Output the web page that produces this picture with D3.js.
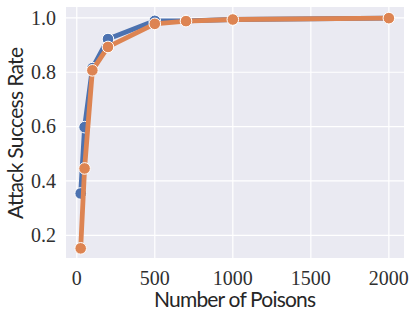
<!DOCTYPE html>
<html>
<head>
    <script src="https://d3js.org/d3.v7.min.js"></script>
    <style>
        body { margin: 0; background: #fff; }
    </style>
</head>
<body>
    <div id="chart"></div>
    <script>
        var poisons = [25, 50, 100, 200, 500, 700, 1000, 2000];
        var blueRate = [0.354, 0.598, 0.815, 0.922, 0.989, 0.989, 0.994, 0.999];
        var orangeRate = [0.152, 0.446, 0.807, 0.893, 0.978, 0.988, 0.994, 0.999];
        var xTicks = [0, 500, 1000, 1500, 2000];
        var yTicks = [0.2, 0.4, 0.6, 0.8, 1.0];

        var width = 416, height = 318;
        var margin = {left: 66, right: 12, top: 7, bottom: 60};

        var svg = d3.select("#chart").append("svg")
            .attr("width", width)
            .attr("height", height);

        var x = d3.scaleLinear().domain([-69, 2097]).range([margin.left, width - margin.right]);
        var y = d3.scaleLinear().domain([0.1165, 1.040]).range([height - margin.bottom, margin.top]);

        svg.append("rect")
            .attr("x", margin.left)
            .attr("y", margin.top)
            .attr("width", width - margin.left - margin.right)
            .attr("height", height - margin.top - margin.bottom)
            .attr("fill", "#eaeaf2");

        // grid
        svg.selectAll(".gx").data(xTicks).enter().append("line")
            .attr("x1", function(d) { return x(d); })
            .attr("x2", function(d) { return x(d); })
            .attr("y1", margin.top)
            .attr("y2", height - margin.bottom)
            .attr("stroke", "#fff").attr("stroke-width", 1.2);
        svg.selectAll(".gy").data(yTicks).enter().append("line")
            .attr("y1", function(d) { return y(d); })
            .attr("y2", function(d) { return y(d); })
            .attr("x1", margin.left)
            .attr("x2", width - margin.right)
            .attr("stroke", "#fff").attr("stroke-width", 1.2);

        // tick labels
        svg.selectAll(".tx").data(xTicks).enter().append("text")
            .attr("x", function(d) { return x(d); })
            .attr("y", 285)
            .attr("text-anchor", "middle")
            .attr("font-family", "Liberation Serif")
            .attr("font-size", 20)
            .attr("fill", "#303030")
            .text(function(d) { return d; });
        svg.selectAll(".ty").data(yTicks).enter().append("text")
            .attr("x", 56)
            .attr("y", function(d) { return y(d); })
            .attr("dy", "0.34em")
            .attr("text-anchor", "end")
            .attr("font-family", "Liberation Serif")
            .attr("font-size", 20)
            .attr("fill", "#303030")
            .text(function(d) { return d.toFixed(1); });

        // axis labels
        svg.append("text")
            .attr("x", 235)
            .attr("y", 306.5)
            .attr("text-anchor", "middle")
            .attr("font-family", "Lato")
            .attr("font-size", 21)
            .attr("fill", "#262626")
            .attr("textLength", 162)
            .text("Number of Poisons");
        svg.append("text")
            .attr("transform", "translate(22.5,133) rotate(-90)")
            .attr("text-anchor", "middle")
            .attr("font-family", "Lato")
            .attr("font-size", 21)
            .attr("fill", "#262626")
            .attr("textLength", 172)
            .text("Attack Success Rate");

        var line = d3.line()
            .x(function(d) { return x(d[0]); })
            .y(function(d) { return y(d[1]); });

        var series = [
            {vals: blueRate, color: "#4c72b0"},
            {vals: orangeRate, color: "#dd8452"}
        ];

        series.forEach(function(s) {
            var pts = poisons.map(function(p, i) { return [p, s.vals[i]]; });
            svg.append("path")
                .datum(pts)
                .attr("d", line)
                .attr("fill", "none")
                .attr("stroke", s.color)
                .attr("stroke-width", 4.8)
                .attr("stroke-linejoin", "round");
            svg.selectAll(null).data(pts).enter().append("circle")
                .attr("cx", function(d) { return x(d[0]); })
                .attr("cy", function(d) { return y(d[1]); })
                .attr("r", 5.8)
                .attr("fill", s.color)
                .attr("stroke", "#fff")
                .attr("stroke-width", 1);
        });
    </script>
</body>
</html>
